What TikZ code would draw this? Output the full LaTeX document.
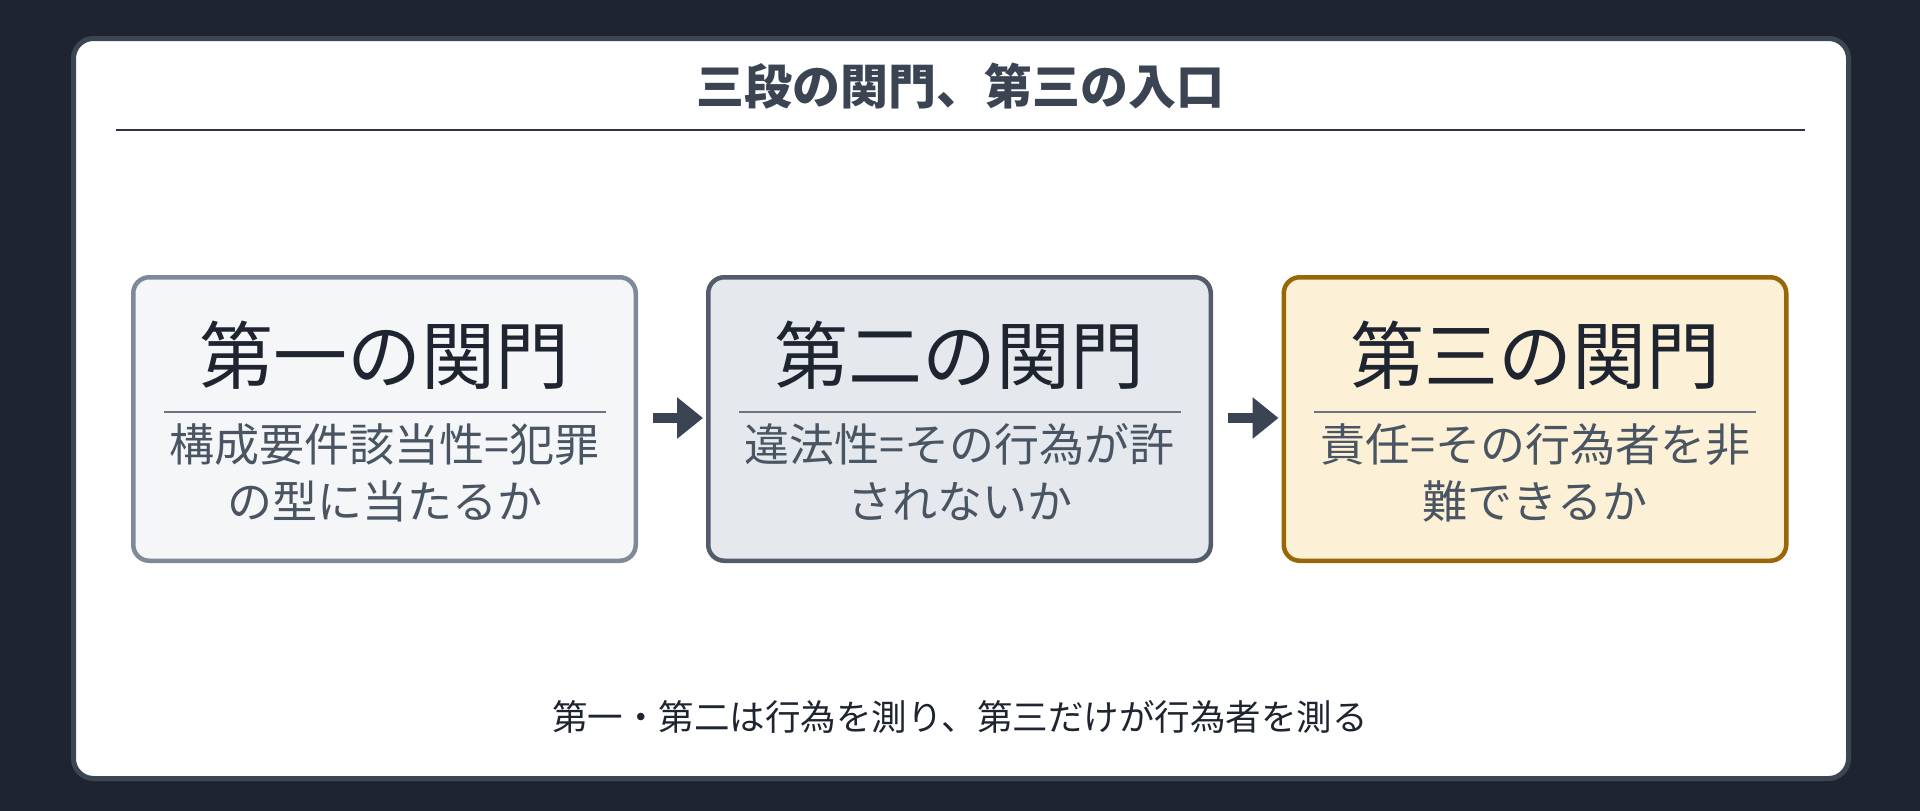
\documentclass[tikz,border=0pt]{standalone}
\usepackage{fontspec}
\setmainfont{Noto Sans CJK JP}
\usetikzlibrary{arrows.meta}
\definecolor{bgdark}{HTML}{1E2530}
\definecolor{panelline}{HTML}{3B4553}
\definecolor{titlecol}{HTML}{3B4452}
\definecolor{rulecol}{HTML}{2D3440}
\definecolor{fillA}{HTML}{F5F6F8}
\definecolor{lineA}{HTML}{7F8A99}
\definecolor{fillB}{HTML}{E5E8ED}
\definecolor{lineB}{HTML}{525C6B}
\definecolor{fillC}{HTML}{FCF0D6}
\definecolor{lineC}{HTML}{996608}
\definecolor{headcol}{HTML}{1E2530}
\definecolor{subcol}{HTML}{4A5563}
\definecolor{sepcol}{HTML}{6B7480}
\definecolor{arrowcol}{HTML}{3B4452}
\tikzset{
  gatebox/.style={draw, line width=4.5pt, rounded corners=16pt, minimum width=502.5pt, minimum height=283.5pt, inner sep=0pt},
  gatehead/.style={anchor=base, inner sep=0pt, text=headcol, font=\fontsize{74}{80}\selectfont},
  gatesub/.style={anchor=base, inner sep=0pt, text=subcol, font=\fontsize{45}{55}\selectfont},
  gatesep/.style={draw=sepcol, line width=2.2pt},
  flowarrow/.style={draw=arrowcol, line width=10pt, -{Triangle[length=26pt,width=40pt]}},
}
\begin{document}
\begin{tikzpicture}[x=1pt,y=-1pt]
\useasboundingbox (0,0) rectangle (1920,811);
\fill[bgdark] (0,0) rectangle (1920,811);
\node[draw=panelline, fill=white, line width=5pt, rounded corners=20pt, minimum width=1775pt, minimum height=740pt, inner sep=0pt] (panel) at (961,408.5) {};
\node[anchor=base, inner sep=0pt, text=titlecol, font=\fontsize{48}{52}\selectfont\bfseries] (title) at (960,104) {三段の関門、第三の入口};
\draw[rulecol, line width=2.5pt] (116,130) -- (1805,130);

\node[gatebox, draw=lineA, fill=fillA] (b1) at (384.5,419) {};
\node[gatebox, draw=lineB, fill=fillB] (b2) at (959.5,419) {};
\node[gatebox, draw=lineC, fill=fillC] (b3) at (1535,419) {};

\node[gatehead] (h1) at (384.5,383) {第一の関門};
\node[gatehead] (h2) at (959.5,383) {第二の関門};
\node[gatehead] (h3) at (1535,383) {第三の関門};

\draw[gatesep] (164,412) -- (606,412);
\draw[gatesep] (739,412) -- (1181,412);
\draw[gatesep] (1314,412) -- (1756,412);

\node[gatesub] (s1a) at (384.5,461) {構成要件該当性=犯罪};
\node[gatesub] (s1b) at (384.5,518) {の型に当たるか};
\node[gatesub] (s2a) at (959.5,461) {違法性=その行為が許};
\node[gatesub] (s2b) at (959.5,518) {されないか};
\node[gatesub] (s3a) at (1535,461) {責任=その行為者を非};
\node[gatesub] (s3b) at (1535,518) {難できるか};

\draw[flowarrow] ([xshift=15pt,yshift=1pt]b1.east) -- ([xshift=-3pt,yshift=1pt]b2.west);
\draw[flowarrow] ([xshift=15pt,yshift=1pt]b2.east) -- ([xshift=-3pt,yshift=1pt]b3.west);

\node[anchor=base, inner sep=0pt, text=headcol, font=\fontsize{35.5}{40}\selectfont] (note) at (960,730) {第一・第二は行為を測り、第三だけが行為者を測る};
\end{tikzpicture}
\end{document}
